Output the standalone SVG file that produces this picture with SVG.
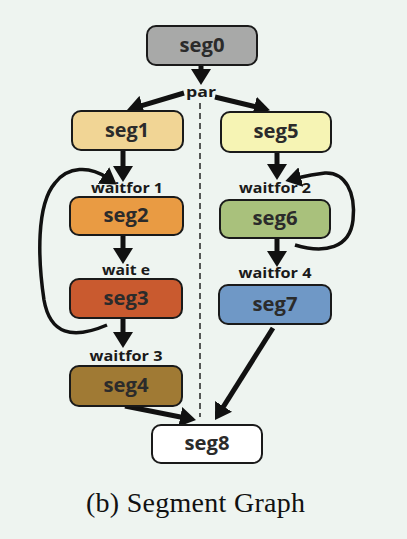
<svg xmlns="http://www.w3.org/2000/svg" width="407" height="539" viewBox="0 0 407 539">
<style>
.box{stroke:#1a1a1a;stroke-width:2}
.lbl{font-family:"Open Sans","Liberation Sans",sans-serif;font-weight:bold;font-size:19px;fill:#2b2b2b;text-anchor:middle}
.cond{font-family:"Open Sans","Liberation Sans",sans-serif;font-weight:bold;font-size:14px;fill:#1a1a1a;text-anchor:middle}
.arr{stroke:#111;stroke-width:5;fill:none;marker-end:url(#ah)}
.loop{stroke:#111;stroke-width:3.5;fill:none;marker-end:url(#ah)}
.cap{font-family:"Liberation Serif","Times New Roman",serif;font-size:28px;fill:#111}
</style>
<defs>
<marker id="ah" markerUnits="userSpaceOnUse" viewBox="0 0 16 20" markerWidth="16" markerHeight="20" refX="4" refY="10" orient="auto">
<path d="M0,0 L16,10 L0,20 z" fill="#111"/>
</marker>
</defs>
<rect x="0" y="0" width="407" height="539" fill="#eef4f0"/>
<g id="connectors">
<line x1="200" y1="103" x2="200" y2="417" stroke="#222" stroke-width="1.5" stroke-dasharray="6 4"/>
<line class="arr" x1="201" y1="65" x2="201" y2="73"/>
<line class="arr" x1="184" y1="93" x2="138.5" y2="106.6"/>
<line class="arr" x1="215" y1="97" x2="258.3" y2="107.4"/>
<line class="arr" x1="123" y1="150" x2="123" y2="170"/>
<line class="arr" x1="123" y1="235" x2="123" y2="252"/>
<line class="arr" x1="123" y1="318" x2="123" y2="336"/>
<line class="arr" x1="277" y1="152" x2="277" y2="168"/>
<line class="arr" x1="277" y1="238" x2="277" y2="255"/>
<line class="arr" x1="273" y1="328" x2="221.4" y2="409.8"/>
<line class="arr" x1="125" y1="406" x2="184.2" y2="417.7"/>
<path class="loop" d="M107,325 C72,340 50,334 44,300 C38,260 36,205 55,183 C68,166 90,166 106.8,177.7"/>
<path class="loop" d="M295,245 C325,254 350,248 353,220 C356,192 345,172 325,173 C315,174 305,176 297,178"/>
</g>
<g id="labels">
<text class="cond" x="201" y="97" textLength="30" lengthAdjust="spacingAndGlyphs">par</text>
<text class="cond" x="127" y="193" textLength="72" lengthAdjust="spacingAndGlyphs">waitfor 1</text>
<text class="cond" x="126" y="275" textLength="48" lengthAdjust="spacingAndGlyphs">wait e</text>
<text class="cond" x="126" y="361" textLength="73" lengthAdjust="spacingAndGlyphs">waitfor 3</text>
<text class="cond" x="275" y="193" textLength="72" lengthAdjust="spacingAndGlyphs">waitfor 2</text>
<text class="cond" x="275" y="278" textLength="73" lengthAdjust="spacingAndGlyphs">waitfor 4</text>
</g>
<g id="seg0"><rect class="box" x="147" y="26" width="110" height="39" rx="9" fill="#a8a9a8"/><text class="lbl" x="202" y="52" textLength="45" lengthAdjust="spacingAndGlyphs">seg0</text></g>
<g id="seg1"><rect class="box" x="72" y="111" width="111" height="39" rx="9" fill="#f1d595"/><text class="lbl" x="127" y="137" textLength="44" lengthAdjust="spacingAndGlyphs">seg1</text></g>
<g id="seg2"><rect class="box" x="70" y="197" width="113" height="38" rx="9" fill="#e99b43"/><text class="lbl" x="126" y="222" textLength="45" lengthAdjust="spacingAndGlyphs">seg2</text></g>
<g id="seg3"><rect class="box" x="70" y="279" width="112" height="39" rx="9" fill="#c95a2f"/><text class="lbl" x="126" y="305" textLength="45" lengthAdjust="spacingAndGlyphs">seg3</text></g>
<g id="seg4"><rect class="box" x="70" y="366" width="112" height="40" rx="9" fill="#a07a34"/><text class="lbl" x="126" y="392" textLength="45" lengthAdjust="spacingAndGlyphs">seg4</text></g>
<g id="seg5"><rect class="box" x="221" y="112" width="110" height="40" rx="9" fill="#f6f4b4"/><text class="lbl" x="276" y="138" textLength="45" lengthAdjust="spacingAndGlyphs">seg5</text></g>
<g id="seg6"><rect class="box" x="220" y="200" width="110" height="38" rx="9" fill="#a9c17c"/><text class="lbl" x="275" y="225" textLength="45" lengthAdjust="spacingAndGlyphs">seg6</text></g>
<g id="seg7"><rect class="box" x="219" y="285" width="112" height="39" rx="9" fill="#6f98c6"/><text class="lbl" x="275" y="311" textLength="45" lengthAdjust="spacingAndGlyphs">seg7</text></g>
<g id="seg8"><rect class="box" x="152" y="425" width="110" height="38" rx="9" fill="#ffffff"/><text class="lbl" x="207" y="450" textLength="45" lengthAdjust="spacingAndGlyphs">seg8</text></g>
<text class="cap" x="86" y="512" textLength="219" lengthAdjust="spacing">(b)  Segment Graph</text>
</svg>
